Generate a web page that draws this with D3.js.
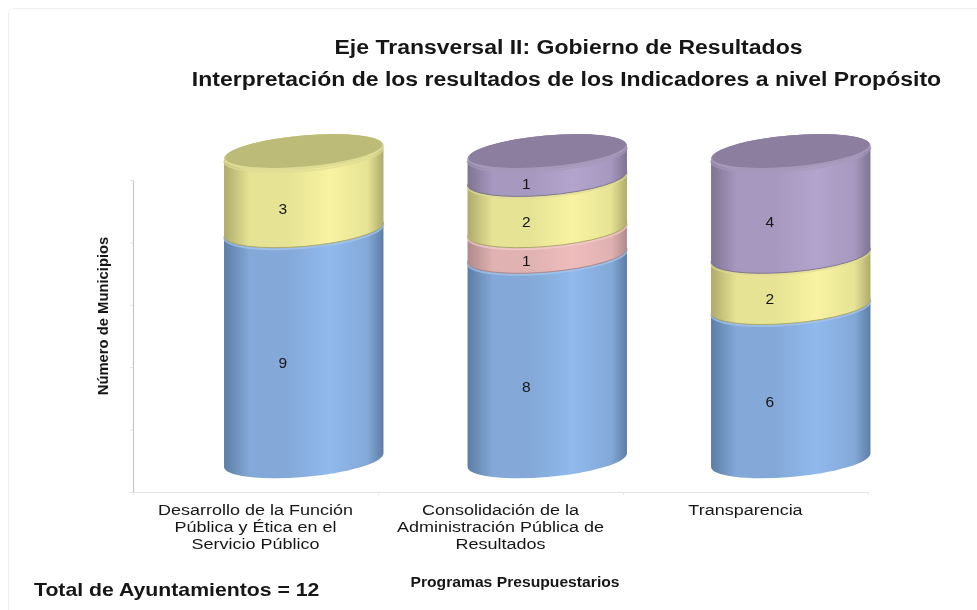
<!DOCTYPE html>
<html>
<head>
<meta charset="utf-8">
<title>Eje Transversal II</title>
<script src="https://cdn.jsdelivr.net/npm/d3@7"></script>
<style>
    html, body { margin: 0; padding: 0; background: #fff; overflow: hidden; }
    svg { display: block; }
    text { font-family: "Liberation Sans", Arial, sans-serif; fill: #161616; }
</style>
</head>
<body>
<div id="chart"></div>
<script>
'use strict';

// Data
const categories = [
    ['Desarrollo de la Función', 'Pública y Ética en el', 'Servicio Público'],
    ['Consolidación de la', 'Administración Pública de', 'Resultados'],
    ['Transparencia']
];
const seriesNames = ['azul', 'rosa', 'amarillo', 'morado'];
const azul = [9, 8, 6];
const rosa = [0, 1, 0];
const amarillo = [3, 2, 2];
const morado = [0, 1, 4];
const axisTicks = [0, 2.4, 4.8, 7.2, 9.6, 12];

const titleLines = [
    'Eje Transversal II: Gobierno de Resultados',
    'Interpretación de los resultados de los Indicadores a nivel Propósito'
];

// Colours: edge, mid, light for the side, then top face and its rim
const palette = {
    azul: { edge: '#5c7da6', mid: '#84a9d8', light: '#90b9ec', face: '#6f8fb8', rim: '#a5c6ee' },
    rosa: { edge: '#b08a8a', mid: '#e0b2b2', light: '#efbcbc', face: '#b99292', rim: '#f3cccc' },
    amarillo: { edge: '#aeab6c', mid: '#e6e394', light: '#f7f3a2', face: '#bdbb78', rim: '#dedc94' },
    morado: { edge: '#7f7494', mid: '#a698be', light: '#b4a4cd', face: '#8b7e9e', rim: '#a598b9' }
};

const width = 977;
const height = 610;

const svg = d3.select('#chart').append('svg')
    .attr('width', width)
    .attr('height', height);

const defs = svg.append('defs');
seriesNames.forEach(name => {
    const c = palette[name];
    const grad = defs.append('linearGradient')
        .attr('id', 'side-' + name);
    [[0, c.edge], [0.16, c.mid], [0.4, c.mid], [0.66, c.light], [0.9, c.mid], [1, c.edge]].forEach(s => {
        grad.append('stop').attr('offset', s[0]).attr('stop-color', s[1]);
    });
});

// the reference is a soft, resampled image
defs.append('filter')
    .attr('id', 'soft')
    .attr('filterUnits', 'userSpaceOnUse')
    .attr('x', 0).attr('y', 0)
    .attr('width', width).attr('height', height)
    .append('feGaussianBlur')
    .attr('stdDeviation', 0.4);

const root = svg.append('g').attr('filter', 'url(#soft)');

// page frame, runs off the right and bottom of the picture
root.append('rect')
    .attr('x', 8.5).attr('y', 8.5)
    .attr('width', 1000).attr('height', 700)
    .attr('rx', 6)
    .attr('fill', 'none')
    .attr('stroke', '#eeeeee');

// ##################################################
// #  Scales                                        #
// ##################################################

const y = d3.scaleLinear([0, 12], [460, 152.5]);
const yAxisScale = d3.scaleLinear([0, 12], [492, 180]);

const xAxisScale = d3.scaleLinear([0, 3], [133, 868]);
const xLabel = d3.scaleBand(d3.range(3), [133, 868]);
const xCyl = d3.scaleBand(d3.range(3), [182, 912.5]);

const stackData = categories.map((c, i) => ({
    i: i, azul: azul[i], rosa: rosa[i], amarillo: amarillo[i], morado: morado[i]
}));
const stacked = d3.stack().keys(seriesNames)(stackData);

// widen text the way the source image is stretched
function stretch(selection, k) {
    selection.each(function () {
        d3.select(this)
            .attr('textLength', this.getComputedTextLength() * k)
            .attr('lengthAdjust', 'spacingAndGlyphs');
    });
}

// ##################################################
// #  Axes                                          #
// ##################################################

const yAxis = root.append('g')
    .attr('transform', 'translate(133,0)')
    .call(d3.axisLeft(yAxisScale).tickValues(axisTicks).tickFormat('').tickSize(3).tickSizeOuter(0));
yAxis.select('.domain').attr('stroke', '#c6c6c6').attr('stroke-width', 1.2);
yAxis.selectAll('.tick line').attr('stroke', '#e2e2e2');

const xAxis = root.append('g')
    .attr('transform', `translate(0,${yAxisScale(0)})`)
    .call(d3.axisBottom(xAxisScale).tickValues([0, 1, 2, 3]).tickFormat('').tickSize(3).tickSizeOuter(0));
xAxis.select('.domain').attr('stroke', '#e4e4e4').attr('stroke-width', 1.2);
xAxis.selectAll('.tick line').attr('stroke', '#e8e8e8');

// ##################################################
// #  Cylinders                                     #
// ##################################################

const rx = 80;
const ry = 17;
const tilt = -5;
const phi = tilt * Math.PI / 180;

// where the rotated ellipse reaches its left and right extremes
const theta = Math.atan(-(ry / rx) * Math.tan(phi));
const edgeX = rx * Math.cos(theta) * Math.cos(phi) - ry * Math.sin(theta) * Math.sin(phi);
const edgeY = rx * Math.cos(theta) * Math.sin(phi) + ry * Math.sin(theta) * Math.cos(phi);

function arc(toX, toY, sweep) {
    return `A${rx},${ry} ${tilt} 0 ${sweep} ${toX},${toY}`;
}

function sidePath(cx, yTop, yBottom) {
    return `M${cx - edgeX},${yTop - edgeY}`
        + arc(cx + edgeX, yTop + edgeY, 1)
        + `L${cx + edgeX},${yBottom + edgeY}`
        + arc(cx - edgeX, yBottom - edgeY, 1)
        + 'Z';
}

function frontArc(cx, yy) {
    return `M${cx + edgeX},${yy + edgeY}` + arc(cx - edgeX, yy - edgeY, 1);
}

const segments = [];
stacked.forEach(layer => {
    layer.forEach((d, i) => {
        if (d[1] > d[0]) {
            segments.push({ name: layer.key, col: i, from: d[0], to: d[1], value: d[1] - d[0] });
        }
    });
});

const cylinders = root.append('g');

segments.forEach(seg => {
    const cx = xCyl(seg.col) + xCyl.bandwidth() / 2;
    const c = palette[seg.name];
    const g = cylinders.append('g');

    g.append('path')
        .attr('d', sidePath(cx, y(seg.to), y(seg.from)))
        .attr('fill', `url(#side-${seg.name})`);

    // lighter bevel just under the joint with the segment above
    g.append('path')
        .attr('d', frontArc(cx, y(seg.to) + 1.5))
        .attr('fill', 'none')
        .attr('stroke', c.rim)
        .attr('stroke-width', 2)
        .attr('stroke-opacity', 0.7);

    // thin seam at the foot of every upper segment
    if (seg.from > 0) {
        g.append('path')
            .attr('d', frontArc(cx, y(seg.from)))
            .attr('fill', 'none')
            .attr('stroke', c.edge)
            .attr('stroke-width', 1);
    }
});

// top faces
const topSegments = segments.filter(s => s.to === 12);

topSegments.forEach(seg => {
    const cx = xCyl(seg.col) + xCyl.bandwidth() / 2;
    const c = palette[seg.name];
    cylinders.append('ellipse')
        .attr('transform', `translate(${cx},${y(12)}) rotate(${tilt})`)
        .attr('rx', rx).attr('ry', ry)
        .attr('fill', c.rim);
    cylinders.append('ellipse')
        .attr('transform', `translate(${cx},${y(12) - 1.5}) rotate(${tilt})`)
        .attr('rx', rx - 1).attr('ry', ry - 1.5)
        .attr('fill', c.face);
});

// ##################################################
// #  Text                                          #
// ##################################################

root.append('g').selectAll('text')
    .data(segments)
    .join('text')
    .attr('x', d => xCyl(d.col) + xCyl.bandwidth() / 2 - 21)
    // the 8 sits lower than the others in the source
    .attr('y', d => y((d.from + d.to) / 2) + (d.value === 8 ? 29 : 18) + 5.5)
    .attr('text-anchor', 'middle')
    .attr('font-size', 15.5)
    .text(d => d.value);

const catLines = categories.flatMap((lines, i) => lines.map((line, j) => ({ line: line, i: i, j: j })));

root.append('g').selectAll('text')
    .data(catLines)
    .join('text')
    .attr('x', d => xLabel(d.i) + xLabel.bandwidth() / 2)
    .attr('y', d => 515 + d.j * 17)
    .attr('text-anchor', 'middle')
    .attr('font-size', 15.5)
    .text(d => d.line)
    .call(stretch, 1.16);

root.selectAll('.title')
    .data(titleLines)
    .join('text')
    .attr('class', 'title')
    .attr('x', (d, i) => i === 0 ? 568.5 : 566.5)
    .attr('y', (d, i) => 54 + i * 32)
    .attr('text-anchor', 'middle')
    .attr('font-size', 19.5)
    .attr('font-weight', 'bold')
    .text(d => d)
    .call(stretch, 1.18);

root.append('text')
    .attr('transform', 'translate(108,316) rotate(-90)')
    .attr('text-anchor', 'middle')
    .attr('font-size', 14.5)
    .attr('font-weight', 'bold')
    .text('Número de Municipios')
    .call(stretch, 1.02);

root.append('text')
    .attr('x', 515).attr('y', 587)
    .attr('text-anchor', 'middle')
    .attr('font-size', 15)
    .attr('font-weight', 'bold')
    .text('Programas Presupuestarios')
    .call(stretch, 1.045);

root.append('text')
    .attr('x', 34).attr('y', 596)
    .attr('font-size', 18.5)
    .attr('font-weight', 'bold')
    .text('Total de Ayuntamientos = 12')
    .call(stretch, 1.148);
</script>
</body>
</html>
